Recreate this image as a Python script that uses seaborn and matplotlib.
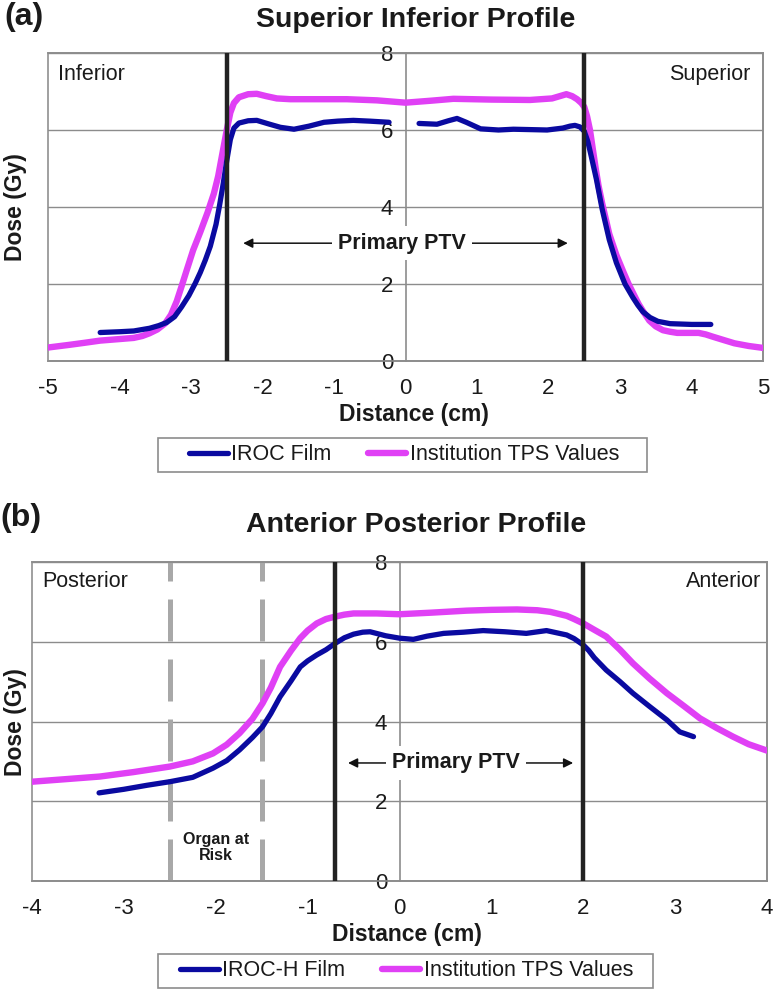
import matplotlib
matplotlib.use("Agg")
import matplotlib.pyplot as plt
from matplotlib.lines import Line2D
from matplotlib.patches import Rectangle
import seaborn as sns
import pandas as pd

# ---------------- data ----------------
# Panel (a): Superior Inferior profile
a_film_x1 = [-4.27, -4.0, -3.8, -3.58, -3.45, -3.34, -3.23, -3.13, -3.03, -2.94, -2.87, -2.8,
             -2.73, -2.65, -2.6, -2.55, -2.5, -2.45, -2.4, -2.33, -2.2, -2.08, -1.9, -1.75,
             -1.56, -1.35, -1.14, -0.95, -0.73, -0.5, -0.23]
a_film_y1 = [0.74, 0.76, 0.78, 0.85, 0.92, 1.0, 1.15, 1.41, 1.7, 2.02, 2.3, 2.62,
             2.98, 3.55, 4.05, 4.6, 5.2, 5.75, 6.05, 6.18, 6.24, 6.25, 6.15, 6.07,
             6.02, 6.1, 6.2, 6.23, 6.25, 6.23, 6.2]
a_film_x2 = [0.19, 0.44, 0.6, 0.72, 0.85, 1.05, 1.3, 1.51, 1.75, 1.98, 2.2, 2.3, 2.37, 2.44,
             2.5, 2.55, 2.6, 2.67, 2.75, 2.85, 2.95, 3.07, 3.18, 3.25, 3.32, 3.42, 3.53,
             3.7, 4.0, 4.27]
a_film_y2 = [6.17, 6.15, 6.24, 6.3, 6.2, 6.03, 6.0, 6.02, 6.01, 6.0, 6.05, 6.1, 6.12, 6.08,
             5.97, 5.7, 5.3, 4.72, 3.95, 3.15, 2.55, 2.0, 1.65, 1.45, 1.28, 1.13, 1.03,
             0.97, 0.95, 0.95]
a_tps_x = [-5.0, -4.7, -4.5, -4.27, -4.0, -3.8, -3.68, -3.58, -3.47, -3.36, -3.28, -3.2,
           -3.13, -3.06, -2.97, -2.87, -2.77, -2.68, -2.62, -2.56, -2.5, -2.45, -2.4, -2.33,
           -2.2, -2.08, -1.95, -1.8, -1.61, -1.2, -0.82, -0.4, 0.0, 0.35, 0.67, 1.2, 1.74,
           2.05, 2.25, 2.33, 2.4, 2.46, 2.5, 2.54, 2.58, 2.62, 2.66, 2.7, 2.75, 2.8, 2.85,
           2.95, 3.05, 3.12, 3.2, 3.26, 3.32, 3.41, 3.5, 3.6, 3.7, 3.8, 4.1, 4.2, 4.3, 4.44,
           4.6, 4.8, 5.0]
a_tps_y = [0.35, 0.42, 0.47, 0.53, 0.57, 0.6, 0.65, 0.72, 0.82, 0.98, 1.2, 1.55,
           1.95, 2.36, 2.88, 3.35, 3.85, 4.35, 4.8, 5.4, 6.0, 6.45, 6.7, 6.85,
           6.93, 6.94, 6.88, 6.82, 6.8, 6.8, 6.8, 6.77, 6.71, 6.76, 6.81, 6.79, 6.78,
           6.82, 6.93, 6.88, 6.8, 6.7, 6.6, 6.35, 6.0, 5.5, 5.0, 4.55, 4.1, 3.7, 3.3,
           2.75, 2.3, 2.0, 1.7, 1.48, 1.3, 1.05, 0.9, 0.8, 0.76, 0.73, 0.73, 0.69, 0.63, 0.55,
           0.46, 0.39, 0.34]

# Panel (b): Anterior Posterior profile
b_film_x = [-3.27, -3.0, -2.75, -2.5, -2.25, -2.03, -1.88, -1.74, -1.6, -1.49, -1.4, -1.3,
            -1.18, -1.08, -1.0, -0.9, -0.8, -0.7, -0.6, -0.5, -0.4, -0.32, -0.15, 0.0, 0.15,
            0.3, 0.48, 0.7, 0.91, 1.15, 1.38, 1.6, 1.82, 1.9, 2.0, 2.06, 2.12, 2.25, 2.4,
            2.54, 2.72, 2.91, 3.05, 3.2]
b_film_y = [2.21, 2.3, 2.4, 2.49, 2.6, 2.83, 3.02, 3.29, 3.6, 3.87, 4.2, 4.62,
            5.02, 5.37, 5.52, 5.67, 5.8, 5.96, 6.1, 6.19, 6.24, 6.25, 6.15, 6.09, 6.06,
            6.14, 6.21, 6.24, 6.28, 6.25, 6.21, 6.28, 6.17, 6.08, 5.92, 5.78, 5.6, 5.29, 5.0,
            4.71, 4.38, 4.04, 3.74, 3.62]
b_tps_x = [-4.0, -3.6, -3.26, -2.9, -2.5, -2.25, -2.03, -1.88, -1.74, -1.6, -1.49, -1.4,
           -1.3, -1.18, -1.08, -1.0, -0.9, -0.8, -0.7, -0.6, -0.5, -0.25, 0.0, 0.35, 0.73,
           1.0, 1.28, 1.5, 1.64, 1.82, 1.9, 2.0, 2.12, 2.25, 2.4, 2.54, 2.72, 2.91, 3.1,
           3.27, 3.45, 3.63, 3.8, 4.0]
b_tps_y = [2.49, 2.56, 2.62, 2.73, 2.87, 3.0, 3.2, 3.42, 3.71, 4.07, 4.46, 4.85,
           5.37, 5.78, 6.09, 6.28, 6.46, 6.57, 6.63, 6.68, 6.71, 6.71, 6.69, 6.73, 6.78,
           6.8, 6.81, 6.79, 6.75, 6.65, 6.57, 6.46, 6.3, 6.13, 5.8, 5.46, 5.08, 4.71, 4.38,
           4.08, 3.84, 3.62, 3.43, 3.27]

a_ptv_lines = [-2.5, 2.5]
b_ptv_lines = [-0.7, 2.0]
b_oar_lines = [-2.5, -1.5]
a_xticks = [-5, -4, -3, -2, -1, 0, 1, 2, 3, 4, 5]
b_xticks = [-4, -3, -2, -1, 0, 1, 2, 3, 4]
yticks = [0, 2, 4, 6, 8]

# ---------------- style ----------------
sns.set_style("white")
plt.rcParams["font.family"] = ["Liberation Sans", "DejaVu Sans"]
TXT = "#1a1a1a"
BLUE = "#0a0aa0"
MAG = "#e040f5"
GRAY = "#8c8c8c"
plt.rcParams["text.color"] = TXT
plt.rcParams["xtick.color"] = GRAY
plt.rcParams["ytick.color"] = GRAY
plt.rcParams["xtick.labelcolor"] = TXT
plt.rcParams["ytick.labelcolor"] = TXT

FS_TICK = 16
FS_LAB = 16.5
FS_TITLE = 20.5
FS_TAG = 23
FS_TXT = 15.5

fig = plt.figure(figsize=(7.73, 9.90), dpi=100)
ax_a = fig.add_axes([48/773, 1-361/990, 715/773, 308/990])
ax_b = fig.add_axes([32/773, 1-881/990, 735/773, 319/990])


def style_axes(ax, xlim, xticks):
    ax.set_xlim(*xlim)
    ax.set_ylim(0, 8)
    ax.set_xticks(xticks)
    ax.set_xticklabels([str(t) for t in xticks])
    ax.set_yticks(yticks)
    ax.set_yticklabels([str(t) for t in yticks])
    ax.yaxis.grid(True, color=GRAY, lw=1.0)
    ax.xaxis.grid(False)
    ax.set_axisbelow(True)
    for s in ["top", "right", "bottom", "left"]:
        ax.spines[s].set_color(GRAY)
        ax.spines[s].set_linewidth(1.2)
    ax.spines["left"].set_position(("data", 0))
    ax.add_patch(Rectangle((0, 0), 1, 1, transform=ax.transAxes, fill=False,
                           ec="#a0a0a0", lw=1.4, clip_on=False, zorder=0.5))
    ax.tick_params(axis="x", direction="out", length=6, width=1.2, pad=6, labelsize=FS_TICK)
    ax.tick_params(axis="y", direction="out", length=5, width=1.2, pad=4, labelsize=FS_TICK)


def draw_line(ax, xs, ys, color, lw):
    df = pd.DataFrame({"x": xs, "y": ys})
    sns.lineplot(data=df, x="x", y="y", ax=ax, color=color, lw=lw, sort=False,
                 estimator=None, legend=False, solid_capstyle="round",
                 solid_joinstyle="round", zorder=3)


def legend_box(labels, box, content_cx, cy):
    x0, x1, y0, y1 = box
    fig.patches.append(Rectangle((x0/773, 1-y1/990), (x1-x0)/773, (y1-y0)/990,
                                 transform=fig.transFigure, fill=False, ec="#8c8c8c",
                                 lw=1.2, zorder=1))
    h = [Line2D([], [], color=BLUE, lw=3.8, solid_capstyle="round"),
         Line2D([], [], color=MAG, lw=4.6, solid_capstyle="round")]
    fig.legend(h, labels, ncol=2, loc="center", bbox_to_anchor=(content_cx/773, 1-cy/990),
               fontsize=FS_TXT, frameon=False, handlelength=1.8, handletextpad=0.15,
               columnspacing=1.7, borderpad=0.0)


# ---------------- panel (a) ----------------
style_axes(ax_a, (-5, 5), a_xticks)
for xv in a_ptv_lines:
    ax_a.axvline(xv, color="#222222", lw=3.2, zorder=4)
draw_line(ax_a, a_tps_x, a_tps_y, MAG, 4.6)
draw_line(ax_a, a_film_x1, a_film_y1, BLUE, 3.8)
draw_line(ax_a, a_film_x2, a_film_y2, BLUE, 3.8)
ax_a.set_xlabel("")
ax_a.set_ylabel("")
ax_a.annotate("", xy=(-2.27, 3.06), xytext=(2.27, 3.06),
              arrowprops=dict(arrowstyle="<|-|>", color="#111", lw=1.1, mutation_scale=14,
                              shrinkA=0, shrinkB=0), zorder=5)
ax_a.text(-0.05, 3.06, "Primary PTV", ha="center", va="center", fontsize=FS_TXT,
          fontweight="bold", zorder=6,
          bbox=dict(boxstyle="square,pad=0.3", fc="white", ec="none"))
ax_a.text(0.014, 0.929, "Inferior", transform=ax_a.transAxes, ha="left", va="center",
          fontsize=FS_TXT)
ax_a.text(0.983, 0.929, "Superior", transform=ax_a.transAxes, ha="right", va="center",
          fontsize=FS_TXT)

fig.text(4/773, 1-17/990, "(a)", ha="left", va="center", fontsize=FS_TAG, fontweight="bold")
fig.text(416/773, 1-20/990, "Superior Inferior Profile", ha="center", va="center",
         fontsize=FS_TITLE, fontweight="bold")
fig.text(16/773, 1-207/990, "Dose (Gy)", rotation=90, ha="center", va="center",
         fontsize=FS_LAB, fontweight="bold")
fig.text(414/773, 1-415/990, "Distance (cm)", ha="center", va="center",
         fontsize=FS_LAB, fontweight="bold")

legend_box(["IROC Film", "Institution TPS Values"], (158, 647, 438, 472), 404, 455)

# ---------------- panel (b) ----------------
style_axes(ax_b, (-4, 4), b_xticks)
for xv in b_oar_lines:
    ax_b.plot([xv, xv], [0, 8], color="#a8a8a8", lw=3.6, dashes=(8.4, 3.6), zorder=2)
for xv in b_ptv_lines:
    ax_b.axvline(xv, color="#222222", lw=3.2, zorder=4)
draw_line(ax_b, b_tps_x, b_tps_y, MAG, 4.6)
draw_line(ax_b, b_film_x, b_film_y, BLUE, 3.8)
ax_b.set_xlabel("")
ax_b.set_ylabel("")
ax_b.annotate("", xy=(-0.56, 2.96), xytext=(1.89, 2.96),
              arrowprops=dict(arrowstyle="<|-|>", color="#111", lw=1.1, mutation_scale=14,
                              shrinkA=0, shrinkB=0), zorder=5)
ax_b.text(0.615, 2.96, "Primary PTV", ha="center", va="center", fontsize=FS_TXT,
          fontweight="bold", zorder=6,
          bbox=dict(boxstyle="square,pad=0.3", fc="white", ec="none"))
ax_b.text(-2.0, 0.85, "Organ at\nRisk", ha="center", va="center", fontsize=11.5,
          fontweight="bold", linespacing=1.1, zorder=6)
ax_b.text(0.0136, 0.938, "Posterior", transform=ax_b.transAxes, ha="left", va="center",
          fontsize=FS_TXT)
ax_b.text(0.992, 0.938, "Anterior", transform=ax_b.transAxes, ha="right", va="center",
          fontsize=FS_TXT)

fig.text(0/773, 1-518/990, "(b)", ha="left", va="center", fontsize=FS_TAG, fontweight="bold")
fig.text(416/773, 1-525/990, "Anterior Posterior Profile", ha="center", va="center",
         fontsize=FS_TITLE, fontweight="bold")
fig.text(16/773, 1-722/990, "Dose (Gy)", rotation=90, ha="center", va="center",
         fontsize=FS_LAB, fontweight="bold")
fig.text(407/773, 1-934/990, "Distance (cm)", ha="center", va="center",
         fontsize=FS_LAB, fontweight="bold")

legend_box(["IROC-H Film", "Institution TPS Values"], (158, 653, 954, 988), 406.5, 971)

fig.savefig("out.png", dpi=100, facecolor="white")
